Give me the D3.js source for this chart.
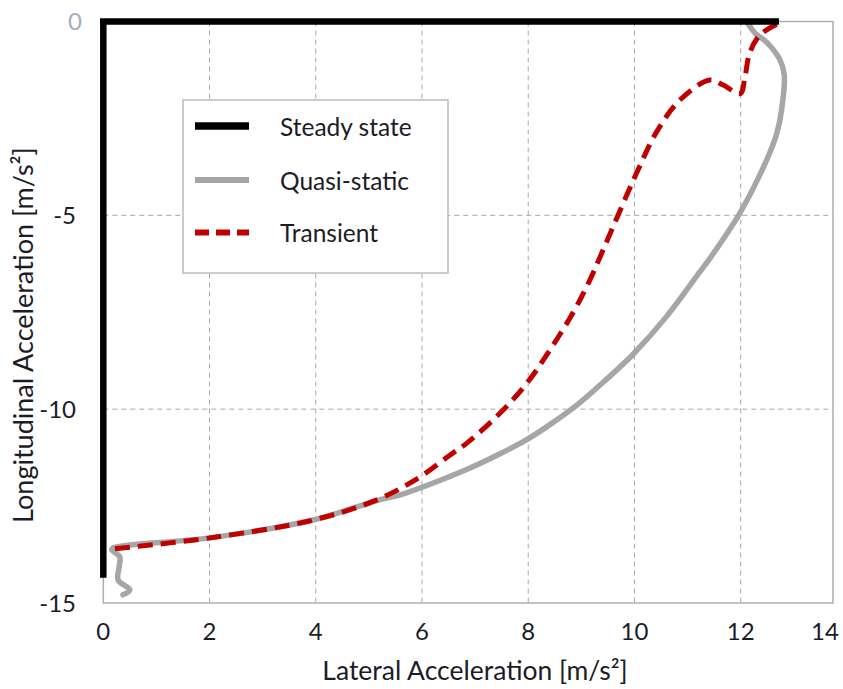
<!DOCTYPE html>
<html><head><meta charset="utf-8">
<script src="https://cdn.jsdelivr.net/npm/d3@7"></script>
<style>
html,body{margin:0;padding:0;background:#fff;}
svg{display:block;}
text{font-family:Lato,"Open Sans",sans-serif;fill:#1c1c28;}
</style></head>
<body>
<svg id="chart" width="843" height="689"></svg>
<script>
// ---- data ----
const xTickValues = [0, 2, 4, 6, 8, 10, 12, 14];
const yTickValues = [0, -5, -10, -15];
const xGridValues = [2, 4, 6, 8, 10, 12];
const yGridValues = [-5, -10];

const seriesNames = ["Steady state", "Quasi-static", "Transient"];

const steadyX = [0, 0, 12.72];
const steadyY = [-14.35, 0, 0];

const quasiX = [12.14, 12.27, 12.50, 12.74, 12.82, 12.77, 12.68, 12.49, 11.99, 11.42, 11.23, 10.61, 9.97, 9.44, 8.92, 8.45, 7.98, 7.47, 6.85, 5.99, 5.59, 5.15, 3.95, 2.01, 0.18, 0.16, 0.31, 0.30, 0.28, 0.50, 0.37];
const quasiY = [-0.06, -0.30, -0.55, -0.99, -1.38, -2.28, -2.88, -3.57, -4.93, -6.11, -6.46, -7.60, -8.59, -9.27, -9.89, -10.36, -10.78, -11.15, -11.55, -12.02, -12.21, -12.36, -12.86, -13.32, -13.58, -13.63, -13.81, -14.05, -14.41, -14.66, -14.79];

const transX = [0.22, 2.01, 3.95, 5.15, 5.96, 6.53, 6.85, 7.47, 7.98, 8.41, 8.84, 9.16, 9.41, 10.04, 10.42, 10.86, 11.42, 11.67, 11.99, 12.08, 12.17, 12.36, 12.68];
const transY = [-13.60, -13.32, -12.86, -12.34, -11.75, -11.18, -10.87, -10.10, -9.32, -8.47, -7.52, -6.67, -5.89, -3.91, -2.84, -2.02, -1.51, -1.64, -1.86, -1.43, -0.81, -0.35, -0.07];

// ---- layout ----
const svg = d3.select("#chart");
const plotLeft = 103.3, plotTop = 21.5, plotBottom = 603, frameRight = 833;
const x = d3.scaleLinear().domain([0, 12]).range([plotLeft, 740.7]);
const y = d3.scaleLinear().domain([0, -15]).range([plotTop, plotBottom]);

// gridlines
svg.append("g").selectAll("line").data(xGridValues).join("line")
  .attr("x1", d => x(d)).attr("x2", d => x(d)).attr("y1", plotTop).attr("y2", plotBottom)
  .attr("stroke", "#a8a8a8").attr("stroke-width", 1).attr("stroke-dasharray", "5,4");
svg.append("g").selectAll("line").data(yGridValues).join("line")
  .attr("y1", d => y(d)).attr("y2", d => y(d)).attr("x1", plotLeft).attr("x2", frameRight)
  .attr("stroke", "#a8a8a8").attr("stroke-width", 1).attr("stroke-dasharray", "5,4");

// frame
svg.append("rect").attr("x", plotLeft).attr("y", plotTop).attr("width", frameRight - plotLeft).attr("height", plotBottom - plotTop)
  .attr("fill", "none").attr("stroke", "#aeaeae").attr("stroke-width", 1.5);

// tick labels
svg.append("g").selectAll("text").data(xTickValues).join("text")
  .attr("x", d => Math.min(x(d), frameRight - 8)).attr("y", 640)
  .attr("text-anchor", "middle").attr("font-size", 24).text(d => d);
svg.append("g").selectAll("text").data(yTickValues).join("text")
  .attr("x", d => d === 0 ? 82 : 76).attr("y", d => y(d) + 8.5)
  .attr("text-anchor", "end").attr("font-size", 24)
  .style("fill", d => d === 0 ? "#a4aebf" : null)
  .text(d => d);

// axis titles
svg.append("text").attr("x", 475).attr("y", 680).attr("text-anchor", "middle")
  .attr("font-size", 26.5).text("Lateral Acceleration [m/s²]");
svg.append("text").attr("transform", "translate(33,335) rotate(-90)").attr("text-anchor", "middle")
  .attr("font-size", 27).text("Longitudinal Acceleration [m/s²]");

// series
const line = d3.line().x(d => x(d[0])).y(d => y(d[1]));
const smooth = d3.line().x(d => x(d[0])).y(d => y(d[1])).curve(d3.curveCatmullRom.alpha(0.5));

svg.append("path").datum(quasiX.map((v, i) => [v, quasiY[i]]))
  .attr("d", smooth).attr("fill", "none").attr("stroke", "#a6a6a6").attr("stroke-width", 5.5)
  .attr("stroke-linejoin", "round").attr("stroke-linecap", "round");
svg.append("path").datum(transX.map((v, i) => [v, transY[i]]))
  .attr("d", smooth).attr("fill", "none").attr("stroke", "#c00000").attr("stroke-width", 5)
  .attr("stroke-dasharray", "15,8");
svg.append("path").datum(steadyX.map((v, i) => [v, steadyY[i]]))
  .attr("d", line).attr("fill", "none").attr("stroke", "#000").attr("stroke-width", 6.5)
  .attr("stroke-linejoin", "miter");

// legend
const lg = svg.append("g");
lg.append("rect").attr("x", 183).attr("y", 100).attr("width", 265).attr("height", 173)
  .attr("fill", "#fff").attr("stroke", "#bcbcbc").attr("stroke-width", 1.5);
const legendStyles = [
  {stroke: "#000", w: 7.5, dash: null},
  {stroke: "#a6a6a6", w: 6, dash: null},
  {stroke: "#c00000", w: 6, dash: "14,7"}
];
const legendY = [126, 180, 232.5];
seriesNames.forEach((name, i) => {
  lg.append("line").attr("x1", 195).attr("x2", 249).attr("y1", legendY[i]).attr("y2", legendY[i])
    .attr("stroke", legendStyles[i].stroke).attr("stroke-width", legendStyles[i].w)
    .attr("stroke-dasharray", legendStyles[i].dash);
  lg.append("text").attr("x", 280).attr("y", legendY[i] + 9.5).attr("font-size", 24.5).text(name);
});
</script>
</body></html>
